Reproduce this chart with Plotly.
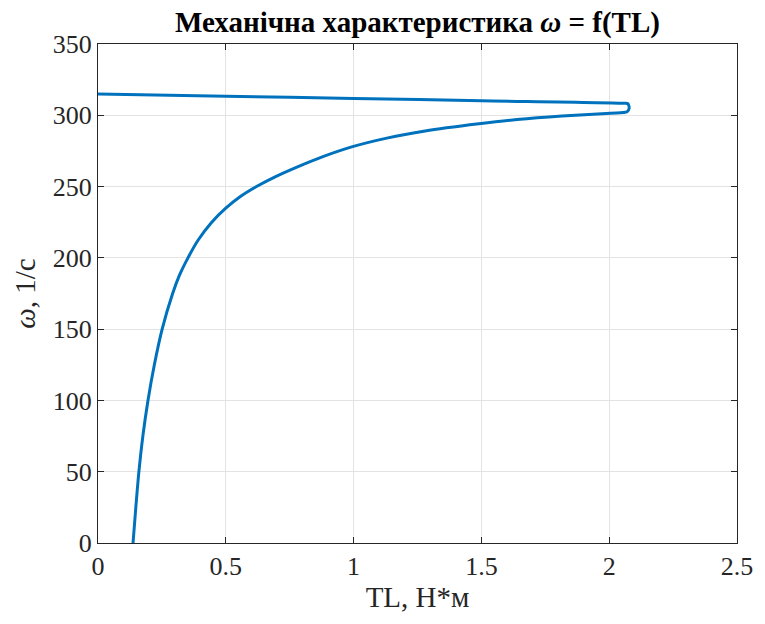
import plotly.graph_objects as go

# Torque TL (N*m) and speed omega (1/s)
tl = [0.137, 0.148, 0.160, 0.1755, 0.1955, 0.2205, 0.251, 0.292, 0.318, 0.352,
      0.392, 0.445, 0.501, 0.553, 0.620, 0.695, 0.783, 0.880, 0.996, 1.13,
      1.28, 1.49, 1.64, 1.815, 2.005, 2.07, 2.078, 2.073, 2.06, 1.5,
      1.0, 0.5, 0.0]
omega = [0.0, 25.0, 50.0, 75.0, 100.0, 125.0, 150.0, 175.0, 187.5, 200.0,
         212.5, 225.0, 235.0, 242.5, 250.0, 257.0, 264.0, 271.0, 278.0, 284.0,
         289.0, 294.0, 297.0, 299.5, 301.5, 302.4, 305.0, 308.1, 308.4, 310.2,
         311.8, 313.4, 315.0]

x_ticks = [0, 0.5, 1, 1.5, 2, 2.5]
x_tick_text = ["0", "0.5", "1", "1.5", "2", "2.5"]
y_ticks = [0, 50, 100, 150, 200, 250, 300, 350]

font_family = "Liberation Serif"

fig = go.Figure()
fig.add_trace(go.Scatter(x=tl, y=omega, mode="lines",
                         line=dict(color="#0072BD", width=3, shape="spline", smoothing=0.8),
                         showlegend=False, hoverinfo="skip"))

axis_common = dict(showline=True, linecolor="#262626", linewidth=1, mirror="ticks",
                   ticks="inside", ticklen=6, tickcolor="#262626",
                   showgrid=True, gridcolor="#e3e3e3", gridwidth=1, zeroline=False,
                   tickfont=dict(family=font_family, size=26, color="#262626"))

fig.update_layout(
    width=765, height=624,
    margin=dict(l=98, r=23, t=44, b=81),
    paper_bgcolor="white", plot_bgcolor="white",
    title=dict(text="<b>Механічна характеристика <i>ω</i> = f(TL)</b>",
               xref="paper", x=0.5, xanchor="center", y=0.965, yanchor="middle",
               font=dict(family=font_family, size=29, color="black")),
    xaxis=dict(range=[0, 2.5], tickvals=x_ticks, ticktext=x_tick_text,
               title=dict(text="TL, Н*м", font=dict(family=font_family, size=29, color="#262626"),
                          standoff=4),
               **axis_common),
    yaxis=dict(range=[0, 350], tickvals=y_ticks,
               title=dict(text="<i>ω</i>, 1/c", font=dict(family=font_family, size=29, color="#262626"),
                          standoff=8),
               **axis_common),
)

fig.write_html("out.html")
